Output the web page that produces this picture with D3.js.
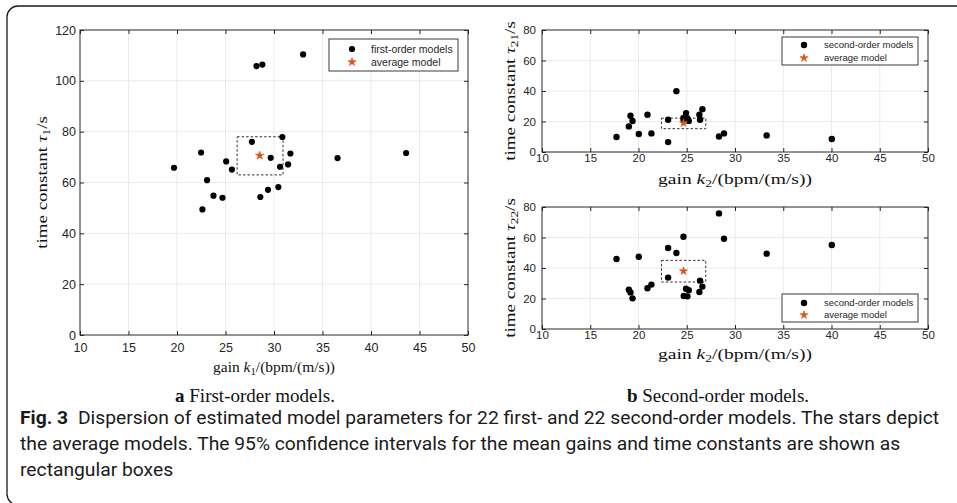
<!DOCTYPE html>
<html><head><meta charset="utf-8">
<script src="https://cdn.jsdelivr.net/npm/d3@7"></script>
<style>
html,body{margin:0;padding:0;background:#fff;}
svg{display:block;}
</style></head>
<body>
<svg id="c" width="957" height="503"></svg>
<script>
// ---- data ----
const firstGain = [33.0, 28.2, 28.8, 30.86, 27.72, 22.48, 31.69, 29.66, 36.55, 43.62, 19.69, 25.07, 25.66, 30.62, 31.45, 23.1, 23.76, 24.69, 22.62, 28.59, 29.38, 30.45];
const firstTau  = [110.4, 105.8, 106.4, 77.9, 76.0, 71.8, 71.4, 69.7, 69.6, 71.6, 65.8, 68.3, 65.1, 66.2, 67.1, 60.9, 54.8, 54.0, 49.4, 54.3, 57.1, 58.2];
const firstAvg = {k: 28.52, tau: 70.6};
const firstCI  = {k: [26.2, 30.93], tau: [63.0, 78.0]};

const secondGain = [17.72, 19.0, 19.17, 19.38, 20.03, 20.93, 21.34, 23.07, 23.07, 23.93, 24.66, 24.69, 24.93, 25.07, 25.21, 26.31, 26.38, 26.62, 28.34, 28.86, 33.28, 40.03];
const secondTau1 = [9.8, 16.8, 23.8, 20.3, 11.8, 24.4, 12.2, 21.1, 6.5, 39.9, 22.3, 20.9, 25.5, 22.0, 20.4, 24.4, 21.1, 28.1, 10.2, 12.2, 10.9, 8.5];
const secondTau2 = [45.9, 25.8, 24.0, 20.1, 47.4, 26.7, 29.1, 53.1, 33.7, 49.8, 60.5, 21.6, 26.4, 21.4, 25.4, 24.3, 31.7, 27.8, 75.8, 59.2, 49.4, 55.1];
const secondAvg = {k: 24.66, tau1: 19.0, tau2: 38.0};
const secondCI  = {k: [22.38, 26.97], tau1: [15.3, 22.2], tau2: [30.8, 45.0]};

const xTicks = [10, 15, 20, 25, 30, 35, 40, 45, 50];
const yTicks1 = [0, 20, 40, 60, 80, 100, 120];
const yTicks2 = [0, 20, 40, 60, 80];

const captionLines = [
  "Dispersion of estimated model parameters for 22 first- and 22 second-order models. The stars depict",
  "the average models. The 95% confidence intervals for the mean gains and time constants are shown as",
  "rectangular boxes"
];

// ---- drawing ----
const svg = d3.select("#c");
const AX = "#262626", GRID = "#ebebeb", STAR = "#d95319";
const SERIF = "'Liberation Serif','DejaVu Serif',serif";
const SANS = "'Liberation Sans',Arial,sans-serif";

// outer frame
svg.append("rect").attr("x", 7).attr("y", 6).attr("width", 1000).attr("height", 499)
  .attr("rx", 11).attr("fill", "none").attr("stroke", "#1a1a1a").attr("stroke-width", 1.3);

function stretchTo(textSel, target) {
  const w = textSel.node().getBBox().width;
  if (w > 0) textSel.attr("transform", `scale(${target / w},1)`);
}

function panel(o) {
  const x = d3.scaleLinear().domain([10, 50]).range([o.x0, o.x1]);
  const y = d3.scaleLinear().domain(o.ydom).range([o.y1, o.y0]);
  const g = svg.append("g");
  // grid
  g.selectAll(".gx").data(xTicks.slice(1, -1)).join("line")
    .attr("x1", d => x(d)).attr("x2", d => x(d)).attr("y1", o.y0).attr("y2", o.y1)
    .attr("stroke", GRID).attr("stroke-width", 1);
  g.selectAll(".gy").data(o.yTicks.slice(1, -1)).join("line")
    .attr("y1", d => y(d)).attr("y2", d => y(d)).attr("x1", o.x0).attr("x2", o.x1)
    .attr("stroke", GRID).attr("stroke-width", 1);
  // axes (inner ticks) on all four sides
  const tl = 4;
  const mk = (gen, tr) => g.append("g").attr("transform", tr).call(gen)
    .call(s => s.select(".domain").remove())
    .call(s => s.selectAll(".tick line").attr("stroke", AX));
  const bottom = mk(d3.axisBottom(x).tickValues(xTicks).tickSize(-tl).tickPadding(o.tpx), `translate(0,${o.y1})`);
  bottom.selectAll("text").attr("font-family", SANS).attr("font-size", o.tfs).attr("fill", AX);
  mk(d3.axisTop(x).tickValues(xTicks).tickSize(-tl).tickFormat(""), `translate(0,${o.y0})`);
  const left = mk(d3.axisLeft(y).tickValues(o.yTicks).tickSize(-tl).tickPadding(o.tpy), `translate(${o.x0},0)`);
  left.selectAll("text").attr("font-family", SANS).attr("font-size", o.tfs).attr("fill", AX);
  mk(d3.axisRight(y).tickValues(o.yTicks).tickSize(-tl).tickFormat(""), `translate(${o.x1},0)`);
  g.append("rect").attr("x", o.x0).attr("y", o.y0).attr("width", o.x1 - o.x0).attr("height", o.y1 - o.y0)
    .attr("fill", "none").attr("stroke", AX).attr("stroke-width", 1);
  // CI box
  g.append("rect").attr("x", x(o.ci.k[0])).attr("y", y(o.ci.t[1]))
    .attr("width", x(o.ci.k[1]) - x(o.ci.k[0])).attr("height", y(o.ci.t[0]) - y(o.ci.t[1]))
    .attr("fill", "none").attr("stroke", "#333").attr("stroke-width", 1).attr("stroke-dasharray", "2.5,2");
  // points
  g.selectAll(".pt").data(o.k.map((k, i) => [k, o.t[i]])).join("circle")
    .attr("cx", d => x(d[0])).attr("cy", d => y(d[1])).attr("r", o.r).attr("fill", "#000");
  // star
  const star = d3.symbol().type(d3.symbolStar).size(o.ss);
  g.append("path").attr("d", star()).attr("transform", `translate(${x(o.avg[0])},${y(o.avg[1])})`)
    .attr("fill", STAR).attr("stroke", STAR).attr("stroke-width", 0.6);
  // legend
  const L = o.leg;
  g.append("rect").attr("x", L.x).attr("y", L.y).attr("width", L.w).attr("height", L.h)
    .attr("fill", "#fff").attr("stroke", "#3a3a3a").attr("stroke-width", 1);
  g.append("circle").attr("cx", L.mx).attr("cy", L.r1).attr("r", o.r).attr("fill", "#000");
  g.append("path").attr("d", star()).attr("transform", `translate(${L.mx},${L.r2})`)
    .attr("fill", STAR).attr("stroke", STAR).attr("stroke-width", 0.6);
  [[L.t1, L.r1], [L.t2, L.r2]].forEach(([t, yy]) => g.append("text").attr("x", L.tx).attr("y", yy)
    .attr("dy", "0.35em").attr("font-family", SANS).attr("font-size", L.fs).attr("fill", AX).text(t));
  // axis labels
  const xg = g.append("g").attr("transform", `translate(${(o.x0 + o.x1) / 2},${o.xly})`);
  const xl = xg.append("text").attr("text-anchor", "middle")
    .attr("font-family", SERIF).attr("font-size", o.lfs).attr("fill", "#111");
  xl.append("tspan").text("gain ");
  xl.append("tspan").attr("font-style", "italic").text("k");
  xl.append("tspan").attr("font-size", o.lfs * 0.7).attr("dy", o.lfs * 0.22).text(o.sub);
  xl.append("tspan").attr("dy", -o.lfs * 0.22).text("/(bpm/(m/s))");
  stretchTo(xl, o.xlw);
  const yg = g.append("g").attr("transform", `translate(${o.ylx},${(o.y0 + o.y1) / 2}) rotate(-90)`);
  const yl = yg.append("text").attr("text-anchor", "middle")
    .attr("font-family", SERIF).attr("font-size", o.lfs).attr("fill", "#111");
  yl.append("tspan").text("time constant ");
  yl.append("tspan").attr("font-style", "italic").text("τ");
  yl.append("tspan").attr("font-size", o.lfs * 0.7).attr("dy", o.lfs * 0.22).text(o.tsub);
  yl.append("tspan").attr("dy", -o.lfs * 0.22).text("/s");
  stretchTo(yl, o.ylw);
}

panel({x0: 80, x1: 468, y0: 30, y1: 335, ydom: [0, 120], yTicks: yTicks1,
  k: firstGain, t: firstTau, avg: [firstAvg.k, firstAvg.tau], ci: {k: firstCI.k, t: firstCI.tau},
  r: 3.1, ss: 22, tfs: 12.5, tpx: 8, tpy: 4, lfs: 15, xly: 372, xlw: 122, ylx: 47, ylw: 133, sub: "1", tsub: "1",
  leg: {x: 329, y: 39, w: 129, h: 32, mx: 352, tx: 371, r1: 49, r2: 62, fs: 10.5, t1: "first-order models", t2: "average model"}});

panel({x0: 542, x1: 928, y0: 30, y1: 152, ydom: [0, 80], yTicks: yTicks2,
  k: secondGain, t: secondTau1, avg: [secondAvg.k, secondAvg.tau1], ci: {k: secondCI.k, t: secondCI.tau1},
  r: 3.2, ss: 20, tfs: 11.5, tpx: 1.5, tpy: 6, lfs: 15, xly: 184, xlw: 154, ylx: 515, ylw: 140, sub: "2", tsub: "21",
  leg: {x: 782, y: 37, w: 136, h: 28, mx: 804, tx: 824, r1: 45, r2: 58, fs: 9.5, t1: "second-order models", t2: "average model"}});

panel({x0: 542, x1: 928, y0: 207, y1: 329, ydom: [0, 80], yTicks: yTicks2,
  k: secondGain, t: secondTau2, avg: [secondAvg.k, secondAvg.tau2], ci: {k: secondCI.k, t: secondCI.tau2},
  r: 3.2, ss: 20, tfs: 11.5, tpx: 1.5, tpy: 6, lfs: 15, xly: 359, xlw: 154, ylx: 515, ylw: 140, sub: "2", tsub: "22",
  leg: {x: 782, y: 294, w: 136, h: 28, mx: 804, tx: 824, r1: 303, r2: 315, fs: 9.5, t1: "second-order models", t2: "average model"}});

// sub captions
[["a", " First-order models.", 255], ["b", " Second-order models.", 718]].forEach(([b, t, cx]) => {
  const tx = svg.append("text").attr("x", cx).attr("y", 402).attr("text-anchor", "middle")
    .attr("font-family", SERIF).attr("font-size", 19).attr("fill", "#111");
  tx.append("tspan").attr("font-weight", "bold").text(b);
  tx.append("tspan").text(t);
});

// caption (condensed look: uniform horizontal scale fitted on first line)
const capY = [424, 450, 476];
const cap = svg.append("g").attr("transform", "translate(20,0)");
const capTexts = captionLines.map((line, i) => {
  const t = cap.append("text").attr("x", 0).attr("y", capY[i]).attr("font-family", "Roboto,'Noto Sans',sans-serif")
    .attr("font-size", 18.5).attr("fill", "#1a1a1a");
  if (i === 0) {
    t.append("tspan").attr("font-weight", "bold").text("Fig. 3");
    t.append("tspan").text("\u2002" + line);
  } else t.text(line);
  return t;
});
const w0 = capTexts[0].node().getBBox().width;
const sx = (940 - 20) / w0;
capTexts.forEach(t => t.attr("transform", `scale(${sx},1)`));
</script>
</body></html>
